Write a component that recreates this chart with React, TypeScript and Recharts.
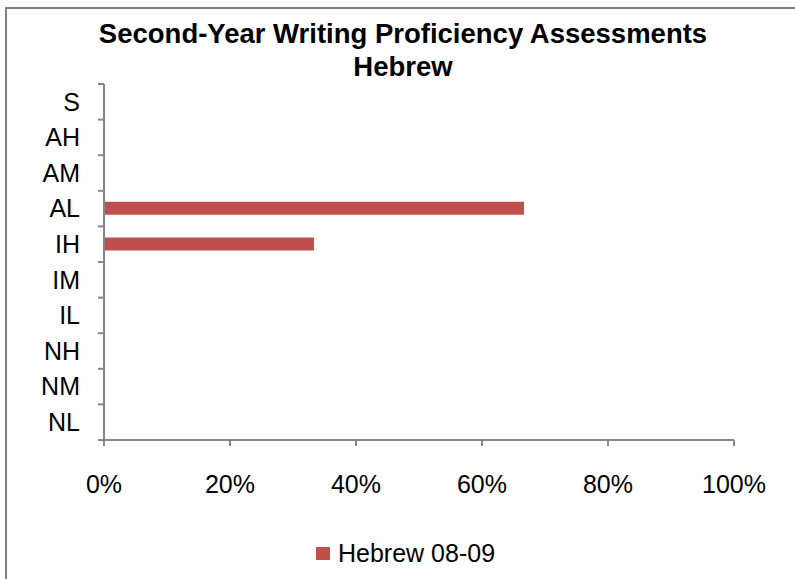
import React from 'react';
import { BarChart, Bar, XAxis, YAxis, Legend } from 'recharts';

const levels = ['S', 'AH', 'AM', 'AL', 'IH', 'IM', 'IL', 'NH', 'NM', 'NL'];
const hebrew0809 = [0, 0, 0, 0.6667, 0.3333, 0, 0, 0, 0, 0];
const percentTicks = [0, 0.2, 0.4, 0.6, 0.8, 1];
const seriesName = 'Hebrew 08-09';
const titleLines = ['Second-Year Writing Proficiency Assessments', 'Hebrew'];

const data = levels.map((level, i) => ({ level, value: hebrew0809[i] }));

const FONT = '"Liberation Sans", Arial, sans-serif';
const AXIS = '#868686';
const BAR = '#c0504d';
const PLOT_TOP = 84;
const PLOT_BOTTOM = 440;
const BAND = (PLOT_BOTTOM - PLOT_TOP) / levels.length;
const LABEL_GAP = 24;

// category ticks sit between the bands, like Excel does
function LevelTick(props: any) {
  const { x, y, payload, index } = props;
  const axisX = x + LABEL_GAP;
  const top = y - BAND / 2;
  return (
    <g>
      <line x1={axisX - 6} x2={axisX} y1={top} y2={top} stroke={AXIS} strokeWidth={2} />
      {index === levels.length - 1 && (
        <line x1={axisX - 6} x2={axisX} y1={y + BAND / 2} y2={y + BAND / 2} stroke={AXIS} strokeWidth={2} />
      )}
      <text x={x} y={y} dy="0.355em" textAnchor="end" fill="#000" fontSize={25} fontFamily={FONT}>
        {payload.value}
      </text>
    </g>
  );
}

function LegendBox(props: any) {
  const items = props.payload || [];
  return (
    <div style={{ fontFamily: FONT, fontSize: 25, lineHeight: '30px', color: '#000' }}>
      {items.map((it: any) => (
        <div key={it.value} style={{ display: 'flex', alignItems: 'center' }}>
          <span style={{ display: 'inline-block', width: 14, height: 13, background: it.color, marginRight: 8 }} />
          <span>{it.value}</span>
        </div>
      ))}
    </div>
  );
}

export default function App() {
  return (
    <div style={{ position: 'absolute', left: 0, top: 0, width: 795, height: 579, overflow: 'hidden', background: '#fff' }}>
      <div
        style={{
          position: 'absolute',
          left: 5,
          top: 7,
          width: 900,
          height: 700,
          border: '2px solid #7f7f7f',
        }}
      />
      <div
        style={{
          position: 'absolute',
          left: 0,
          top: 17,
          width: 806,
          textAlign: 'center',
          fontFamily: FONT,
          fontWeight: 'bold',
          fontSize: 27.5,
          lineHeight: '33px',
          color: '#000',
        }}
      >
        {titleLines.map((t) => (
          <div key={t}>{t}</div>
        ))}
      </div>
      <div style={{ position: 'absolute', left: 0, top: 0 }}>
        <BarChart
          width={795}
          height={579}
          layout="vertical"
          data={data}
          margin={{ top: PLOT_TOP, right: 61, left: 0, bottom: 0 }}
          barSize={13}
        >
          <XAxis
            type="number"
            domain={[0, 1]}
            ticks={percentTicks}
            tickFormatter={(v: number) => `${Math.round(v * 100)}%`}
            height={139}
            tickSize={6}
            tickMargin={29}
            axisLine={{ stroke: AXIS, strokeWidth: 2 }}
            tickLine={{ stroke: AXIS, strokeWidth: 2 }}
            tick={{ fill: '#000', fontSize: 25, fontFamily: FONT }}
          />
          <YAxis
            type="category"
            dataKey="level"
            width={104}
            tickSize={0}
            tickMargin={LABEL_GAP}
            axisLine={{ stroke: AXIS, strokeWidth: 2 }}
            tickLine={false}
            tick={<LevelTick />}
            interval={0}
          />
          <Legend
            verticalAlign="middle"
            align="center"
            content={<LegendBox />}
            wrapperStyle={{ top: 538, left: 316, width: 'auto' }}
          />
          <Bar dataKey="value" name={seriesName} fill={BAR} isAnimationActive={false} />
        </BarChart>
      </div>
    </div>
  );
}
